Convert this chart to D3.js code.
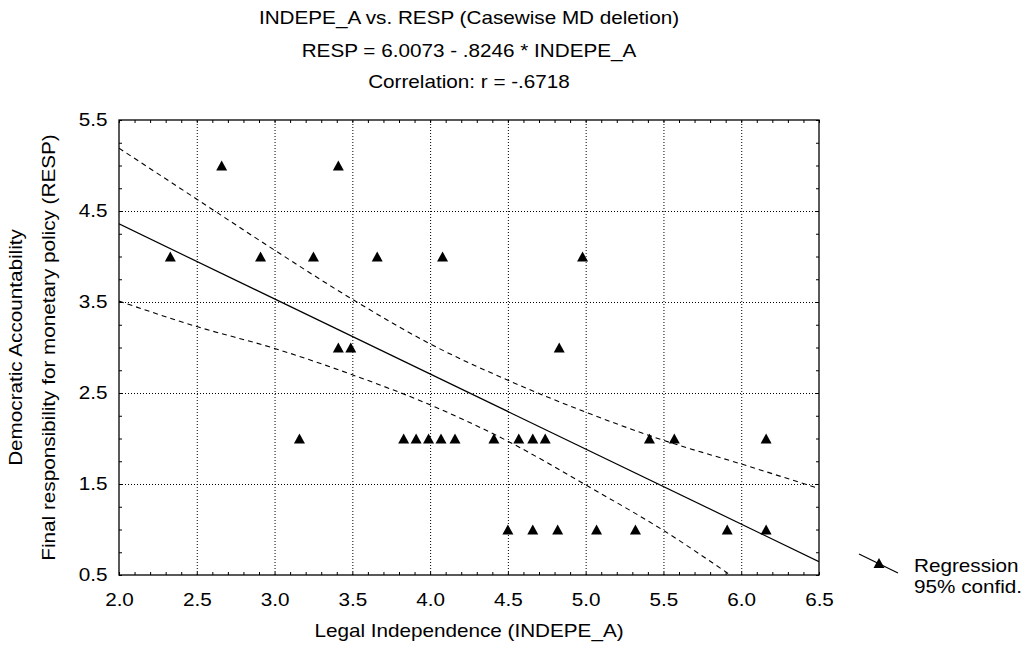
<!DOCTYPE html>
<html>
<head>
<meta charset="utf-8">
<script src="https://cdn.jsdelivr.net/npm/d3@7"></script>
<style>
  body { margin: 0; background: #fff; }
  svg { display: block; font-family: "Liberation Sans", Arial, sans-serif; }
</style>
</head>
<body>
<svg id="chart" width="1027" height="648"></svg>
<script>
// data
const indepe = [2.66, 3.41,
  2.33, 2.91, 3.25, 3.66, 4.08, 4.98,
  3.41, 3.49, 4.83,
  3.16, 3.83, 3.91, 3.99, 4.07, 4.16, 4.41, 4.57, 4.66, 4.74, 5.41, 5.57, 6.16,
  4.50, 4.66, 4.82, 5.07, 5.32, 5.91, 6.16]
const resp = [5, 5,
  4, 4, 4, 4, 4, 4,
  3, 3, 3,
  2, 2, 2, 2, 2, 2, 2, 2, 2, 2, 2, 2, 2,
  1, 1, 1, 1, 1, 1, 1]

const intercept = 6.0073
const slope = -0.8246

// 95% confidence band, read at the grid columns
const bandX = [2.0, 2.5, 3.0, 3.5, 4.0, 4.5, 5.0, 5.5, 6.0, 6.5]
const bandUpper = [5.19, 4.63, 4.07, 3.53, 3.04, 2.64, 2.29, 1.98, 1.72, 1.45]
const bandLower = [3.51, 3.23, 2.99, 2.70, 2.37, 1.97, 1.49, 0.99, 0.42, -0.15]

const xTicks = [2.0, 2.5, 3.0, 3.5, 4.0, 4.5, 5.0, 5.5, 6.0, 6.5]
const yTicks = [0.5, 1.5, 2.5, 3.5, 4.5, 5.5]

const titleLines = ['INDEPE_A vs. RESP (Casewise MD deletion)',
  'RESP = 6.0073 - .8246 * INDEPE_A',
  'Correlation: r = -.6718']
const xTitle = 'Legal Independence (INDEPE_A)'
const yTitles = ['Democratic Accountability', 'Final responsibility for monetary policy (RESP)']
const legendLabels = ['Regression', '95% confid.']

const svg = d3.select('#chart')
const padLeft = 119, padRight = 819, padTop = 120, padBottom = 575
const fs = 18      // font size
const sx = 1.15    // the original font runs wide

const x = d3.scaleLinear().domain([2, 6.5]).range([padLeft, padRight])
const y = d3.scaleLinear().domain([0.5, 5.5]).range([padBottom, padTop])

svg.append('defs').append('clipPath').attr('id', 'plot')
  .append('rect').attr('x', padLeft).attr('y', padTop)
  .attr('width', padRight - padLeft).attr('height', padBottom - padTop)

// dotted grid
const grid = svg.append('g').attr('class', 'grid')
grid.append('g')
  .attr('transform', `translate(0, ${padBottom})`)
  .call(d3.axisBottom(x).tickValues(xTicks.slice(1, -1)).tickSize(-(padBottom - padTop)).tickFormat(''))
grid.append('g')
  .attr('transform', `translate(${padLeft}, 0)`)
  .call(d3.axisLeft(y).tickValues(yTicks.slice(1, -1)).tickSize(-(padRight - padLeft)).tickFormat(''))
grid.selectAll('.tick line')
  .attr('stroke', '#000')
  .attr('stroke-dasharray', '1,2')
grid.selectAll('path.domain').remove()

// small inward ticks on all four sides
const xMinor = d3.range(20, 66).map(d => d / 10)
const yMinor = d3.range(2, 23).map(d => d / 4)
const minor = svg.append('g').attr('class', 'minor')
minor.append('g').attr('transform', `translate(0, ${padBottom})`)
  .call(d3.axisBottom(x).tickValues(xMinor).tickSize(-3).tickFormat(''))
minor.append('g').attr('transform', `translate(0, ${padTop})`)
  .call(d3.axisTop(x).tickValues(xMinor).tickSize(-3).tickFormat(''))
minor.append('g').attr('transform', `translate(${padLeft}, 0)`)
  .call(d3.axisLeft(y).tickValues(yMinor).tickSize(-3).tickFormat(''))
minor.append('g').attr('transform', `translate(${padRight}, 0)`)
  .call(d3.axisRight(y).tickValues(yMinor).tickSize(-3).tickFormat(''))
minor.selectAll('path.domain').remove()
minor.selectAll('.tick line').attr('stroke', '#000')

// tick labels
const xAxis = svg.append('g')
  .attr('transform', `translate(0, ${padBottom})`)
  .call(d3.axisBottom(x).tickValues(xTicks).tickSize(0).tickPadding(18).tickFormat(d3.format('.1f')))
const yAxis = svg.append('g')
  .attr('transform', `translate(${padLeft}, 0)`)
  .call(d3.axisLeft(y).tickValues(yTicks).tickSize(0).tickPadding(10).tickFormat(d3.format('.1f')))
svg.selectAll('path.domain').remove()
;[xAxis, yAxis].forEach(a => a.selectAll('text')
  .attr('fill', '#000')
  .style('font-size', fs + 'px')
  .attr('transform', `scale(${sx},1)`))

// frame
svg.append('rect')
  .attr('x', padLeft).attr('y', padTop)
  .attr('width', padRight - padLeft).attr('height', padBottom - padTop)
  .attr('fill', 'none').attr('stroke', '#000').attr('stroke-width', 1.3)

const plot = svg.append('g').attr('clip-path', 'url(#plot)')

// regression line
plot.append('line')
  .attr('x1', x(2)).attr('y1', y(intercept + slope * 2))
  .attr('x2', x(6.5)).attr('y2', y(intercept + slope * 6.5))
  .attr('stroke', '#000').attr('stroke-width', 1.2)

// confidence band
const band = d3.line().x((d, i) => x(bandX[i])).y(d => y(d)).curve(d3.curveMonotoneX)
;[bandUpper, bandLower].forEach(b => {
  plot.append('path')
    .attr('d', band(b))
    .attr('fill', 'none').attr('stroke', '#000').attr('stroke-width', 1.1)
    .attr('stroke-dasharray', '5,4')
})

// points
const tri = 'M0,-5L5.5,5L-5.5,5Z'
svg.append('g').selectAll('path')
  .data(indepe)
  .enter()
  .append('path')
  .attr('d', tri)
  .attr('transform', (d, i) => `translate(${x(d)}, ${y(resp[i])})`)
  .attr('fill', '#000')

// text helper: wide text via a scale along the line
const label = (tx, ty, str, anchor, rot) => {
  svg.append('text')
    .attr('transform', `translate(${tx}, ${ty})` + (rot ? ` rotate(${rot})` : '') + ` scale(${sx},1)`)
    .attr('text-anchor', anchor)
    .style('font-size', fs + 'px')
    .attr('fill', '#000')
    .text(str)
}

const cx = (padLeft + padRight) / 2
label(cx, 24, titleLines[0], 'middle')
label(cx, 57, titleLines[1], 'middle')
label(cx, 88, titleLines[2], 'middle')
label(cx, 637, xTitle, 'middle')
label(22, (padTop + padBottom) / 2, yTitles[0], 'middle', -90)
label(55, (padTop + padBottom) / 2, yTitles[1], 'middle', -90)

// legend
svg.append('line')
  .attr('x1', 859).attr('y1', 554).attr('x2', 898).attr('y2', 573)
  .attr('stroke', '#000').attr('stroke-width', 1.2)
svg.append('path').attr('d', tri).attr('transform', 'translate(879, 563)').attr('fill', '#000')
label(914, 572, legendLabels[0], 'start')
label(914, 593, legendLabels[1], 'start')
</script>
</body>
</html>
